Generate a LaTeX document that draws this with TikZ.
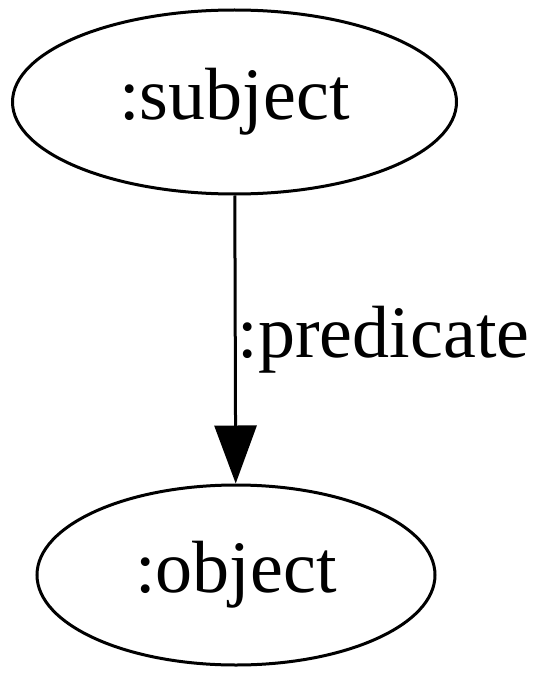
\documentclass[tikz,border=0pt]{standalone}
\usepackage{fontspec}
\setmainfont{Liberation Serif}
\usetikzlibrary{shapes.geometric,arrows.meta}
\begin{document}
\begin{tikzpicture}[x=1pt,y=-1pt,
  nodeell/.style={draw, ellipse, line width=3pt, inner sep=0pt, font=\fontsize{74}{80}\selectfont},
  edgelab/.style={font=\fontsize{74}{80}\selectfont, inner sep=1pt}]
\useasboundingbox (0,0) rectangle (539,674);
\node[nodeell, minimum width=444pt, minimum height=184pt] (s) at (234.5,102) {:subject};
\node[nodeell, minimum width=398pt, minimum height=180pt] (o) at (236,575) {:object};
\draw[line width=3pt, -{Triangle[length=58pt,width=42pt]}] (s) -- (o)
  node[midway, anchor=west, edgelab] (p) {:predicate};
\end{tikzpicture}
\end{document}
